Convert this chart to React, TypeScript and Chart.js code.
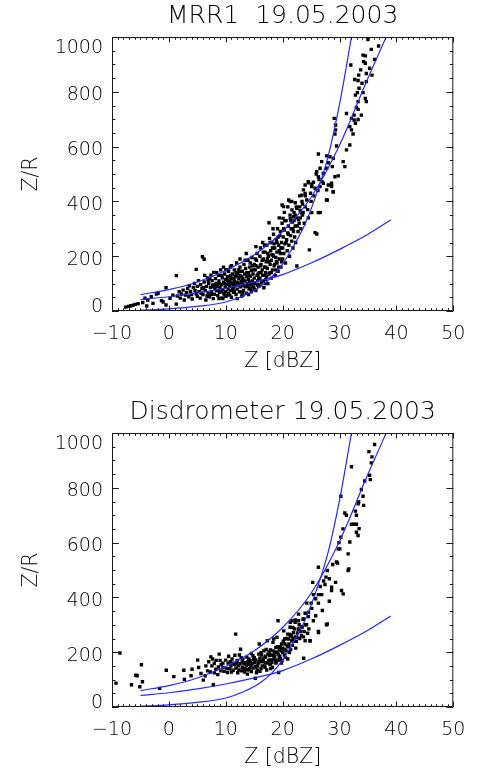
import React, { useEffect, useRef } from 'react';
import { Chart, registerables } from 'chart.js';

Chart.register(...registerables);

// ---------- axes ----------
const X_TICKS = [-10, 0, 10, 20, 30, 40, 50];
const Y_TICKS = [0, 200, 400, 600, 800, 1000];
const X_MINOR_STEP = 1;
const Y_MINOR_STEP = 50;

// ---------- fitted Z/R relations (same in both panels) ----------
const CURVE_A_Z = [-5, 0, 5, 10, 13, 16, 18, 20, 22, 24, 26, 28, 30, 32.1];
const CURVE_A_ZR = [3, 8, 17, 33, 55, 88, 122, 172, 240, 320, 430, 565, 755, 1000];
const CURVE_B_Z = [-5, 0, 5, 10, 15, 20, 25, 30, 35, 38.2];
const CURVE_B_ZR = [60, 78, 106, 148, 205, 290, 415, 605, 850, 1000];
const CURVE_C_Z = [-5, 0, 5, 10, 15, 20, 25, 30, 35, 39];
const CURVE_C_ZR = [42, 52, 66, 84, 106, 133, 175, 225, 280, 332];

// ---------- MRR1 scatter [Z dBZ, Z/R] ----------
const MRR_POINTS: [number, number][] = [
  [-7.6, 14], [-7.1, 17], [-6.7, 19], [-6.3, 21], [-5.9, 24], [-5.4, 27], [-4.6, 31], [-3.9, 18], [-3.7, 40], [-3.1, 52],
  [-2.8, 28], [-2.2, 62], [-1.9, 65], [-1.3, 38], [-1.0, 33], [-0.5, 22], [-0.5, 85], [0.2, 46], [0.7, 58], [-4.2, 47],
  [1.3, 25], [1.3, 129],
  [1.5, 55], [1.8, 70], [2.0, 47], [2.2, 62], [2.5, 76], [2.7, 40], [2.9, 58], [3.1, 67], [3.3, 82], [3.5, 52],
  [3.6, 92], [3.8, 71], [4.0, 60], [4.1, 44], [4.3, 86], [4.5, 101], [4.6, 75], [4.8, 152], [4.8, 63], [5.0, 90], [5.0, 54],
  [5.2, 111], [5.3, 70], [5.5, 47], [5.6, 96], [5.8, 81], [5.9, 198], [6.0, 60], [6.2, 189], [6.2, 106], [6.4, 75],
  [6.5, 40], [6.6, 90], [6.8, 121], [6.9, 65], [7.0, 100], [7.1, 52], [7.3, 86], [7.4, 131], [7.5, 70], [7.6, 111],
  [7.7, 95], [7.8, 45], [7.9, 141], [8.0, 61], [8.1, 80], [8.2, 118], [8.3, 101], [8.4, 75], [8.5, 90], [8.6, 56],
  [8.7, 130], [8.8, 110], [8.9, 68], [9.0, 85], [9.1, 150], [9.2, 96], [9.3, 48], [9.4, 121], [9.5, 78], [9.6, 105],
  [9.7, 62], [9.8, 135], [9.9, 88], [10.0, 115], [10.0, 70],
  [5.7, 65], [6.3, 130], [6.7, 55], [7.2, 118], [7.9, 88], [8.4, 140], [8.9, 100], [9.3, 70], [9.6, 160], [9.9, 55],
  [10.1, 55], [10.2, 98], [10.3, 125], [10.4, 80], [10.5, 145], [10.5, 65], [10.6, 108], [10.7, 90], [10.8, 160], [10.9, 75],
  [11.0, 118], [11.0, 50], [11.1, 100], [11.2, 135], [11.3, 85], [11.4, 68], [11.5, 150], [11.5, 110], [11.6, 92], [11.7, 125],
  [11.8, 60], [11.9, 175], [12.0, 105], [12.0, 80], [12.1, 140], [12.2, 95], [12.3, 118], [12.4, 70], [12.5, 160], [12.5, 130],
  [12.6, 88], [12.7, 108], [12.8, 55], [12.9, 145], [13.0, 120], [13.0, 98], [13.1, 75], [13.2, 170], [13.3, 135], [13.4, 110],
  [13.5, 88], [13.5, 155], [13.6, 65], [13.7, 125], [13.8, 100], [13.9, 185], [14.0, 140], [14.0, 115], [14.1, 80], [14.2, 160],
  [14.3, 128], [14.4, 95], [14.5, 148], [14.5, 70], [14.6, 195], [14.7, 110], [14.8, 135], [14.9, 88], [15.0, 170], [15.0, 120],
  [10.3, 112], [10.8, 130], [11.2, 78], [11.7, 102], [12.2, 150], [12.7, 125], [13.2, 92], [13.7, 140], [14.2, 105], [14.7, 165],
  [10.6, 95], [11.4, 120], [12.4, 100], [13.1, 112], [13.9, 130], [14.4, 82], [12.9, 68], [11.8, 140], [10.9, 105], [14.9, 150],
  [15.1, 100], [15.2, 150], [15.3, 75], [15.4, 185], [15.5, 130], [15.5, 210], [15.6, 110], [15.7, 160], [15.8, 90], [15.9, 140],
  [16.0, 200], [16.0, 120], [16.1, 230], [16.2, 170], [16.3, 105], [16.4, 150], [16.5, 250], [16.5, 130], [16.6, 190], [16.7, 85],
  [16.8, 160], [16.9, 215], [17.0, 140], [17.0, 115], [17.1, 180], [17.2, 240], [17.3, 155], [17.4, 100], [17.5, 200], [17.6, 322],
  [17.6, 135], [17.7, 265], [17.8, 170], [17.9, 220], [18.0, 120], [18.0, 185], [18.1, 250], [18.2, 150], [18.3, 205], [18.4, 280],
  [18.5, 165], [18.6, 230], [18.7, 130], [18.8, 195], [18.9, 260], [19.0, 175], [19.0, 215], [19.1, 300], [19.2, 145], [19.3, 240],
  [19.4, 190], [19.5, 275], [19.6, 210], [19.7, 160], [19.8, 250], [19.9, 320], [20.0, 230], [20.0, 190],
  [15.3, 165], [15.8, 120], [16.2, 140], [16.6, 110], [17.0, 160], [17.4, 210], [17.8, 140], [18.2, 230], [18.6, 170], [19.0, 250],
  [19.4, 220], [19.8, 180], [16.4, 185], [17.2, 125], [18.4, 200], [15.6, 95], [16.8, 240], [17.6, 180], [18.8, 150], [19.6, 290],
  [20.1, 270], [20.2, 210], [20.3, 295], [20.4, 245], [20.5, 175], [20.6, 330], [20.7, 260], [20.8, 220], [20.9, 285], [21.0, 310],
  [21.1, 240], [21.2, 200], [21.3, 350], [21.4, 275], [21.5, 300], [21.6, 255], [21.7, 325], [21.8, 230], [21.9, 290], [22.0, 360],
  [22.1, 270], [22.2, 310], [22.3, 250], [22.5, 164], [22.5, 340], [22.7, 290], [22.9, 320], [23.0, 380], [23.2, 300], [23.5, 350],
  [23.8, 320], [24.0, 380], [24.7, 223], [25.7, 286], [26.0, 281], [26.6, 359], [27.7, 405], [28.9, 435], [28.6, 466], [24.5, 340],
  [25.0, 400], [25.5, 420], [26.2, 440],
  [20.4, 330], [20.9, 380], [21.05, 405], [19.9, 387], [21.6, 400], [22.4, 380], [23.0, 420], [23.4, 400], [23.95, 460], [24.5, 472],
  [25.1, 454], [26.9, 472], [22.0, 330], [23.6, 360],
  [6.1, 85], [6.9, 110], [7.5, 60], [8.2, 95], [8.7, 75], [9.2, 130], [9.8, 100], [10.4, 150], [10.9, 120], [11.3, 95],
  [11.9, 130], [12.4, 145], [12.9, 110], [13.4, 185], [13.9, 90], [14.3, 175], [14.8, 100], [15.2, 190], [15.7, 135], [16.1, 165],
  [16.6, 215], [16.9, 130], [17.3, 190], [17.8, 250], [18.1, 205], [18.5, 245], [18.9, 180], [19.2, 270], [19.7, 230], [20.2, 300],
  [20.6, 250], [21.0, 280], [21.4, 330], [21.8, 300], [22.2, 350], [22.6, 310], [23.1, 340], [23.5, 390], [24.0, 420], [24.4, 370],
  [24.9, 430], [25.4, 470], [25.9, 500], [26.4, 480], [19.3, 160], [18.0, 140], [17.0, 100], [16.0, 95], [15.0, 80], [14.0, 60],
  [13.0, 58], [12.0, 45], [11.5, 72], [10.7, 58], [9.5, 45], [8.8, 45], [12.5, 190], [11.0, 165], [10.0, 150], [13.6, 210],
  [15.3, 235], [18.3, 300], [19.4, 340], [20.3, 360],
  [35.0, 991], [36.86, 967], [35.58, 955], [34.13, 934], [34.54, 931], [36.16, 918], [34.24, 910], [34.54, 904], [35.29, 886], [33.72, 880],
  [34.71, 867], [35.7, 861], [32.67, 845], [33.26, 841], [34.71, 837], [33.95, 831], [33.43, 813], [33.14, 797], [34.13, 797], [32.79, 788],
  [34.54, 776], [33.26, 764], [34.71, 764], [31.98, 898], [33.37, 861], [31.22, 721], [32.56, 715], [32.97, 743], [33.26, 736], [32.09, 703],
  [33.84, 715], [32.56, 697], [32.79, 685], [33.26, 699], [31.8, 673], [32.09, 661], [32.38, 646], [29.07, 703], [29.3, 679], [29.3, 661],
  [29.19, 646], [29.48, 602], [31.8, 606], [31.22, 588], [26.28, 573], [27.73, 566], [28.31, 563], [28.9, 557], [26.86, 545], [28.02, 541],
  [28.72, 527], [30.64, 545], [30.93, 527], [27.73, 521], [26.57, 521], [25.99, 508], [27.15, 502], [26.28, 490], [29.19, 490], [29.77, 493],
  [24.54, 468], [25.12, 463], [25.7, 448], [27.15, 466], [28.02, 460], [27.73, 442], [28.9, 435], [26.57, 454], [23.66, 442], [23.95, 429],
  [23.37, 423], [28.6, 454], [24.24, 405], [22.21, 395], [21.34, 399], [20.17, 381], [21.63, 369], [22.5, 375], [23.08, 366], [23.37, 356],
  [21.92, 344], [21.34, 338], [25.12, 359], [26.28, 359], [27.85, 405], [20.06, 338], [22.79, 334],
];

// ---------- Disdrometer scatter [Z dBZ, Z/R] ----------
const DISDRO_POINTS: [number, number][] = [
  [-8.6, 197], [-9.3, 87], [-6.57, 81], [-5.81, 116], [-5.58, 114], [-4.83, 154], [-5.12, 74], [-4.65, 92], [-1.63, 68], [-0.46, 134],
  [0.87, 111], [2.62, 134], [2.73, 101], [4.07, 138], [3.9, 114], [5.06, 171], [5.23, 144], [5.64, 122], [6.4, 114], [6.05, 98],
  [6.8, 132], [7.38, 183], [7.67, 175], [7.56, 150], [7.97, 159], [7.8, 81], [8.26, 138], [8.84, 193], [8.72, 146], [9.13, 132],
  [9.53, 144], [10.0, 171], [10.3, 126], [10.9, 150], [11.3, 134], [11.6, 189], [11.74, 266], [12.2, 150], [12.6, 211], [12.8, 132],
  [13.2, 159], [13.5, 138], [13.8, 120], [14.07, 175], [14.4, 150], [14.5, 129], [14.77, 187], [15.1, 162], [15.2, 105], [15.5, 138],
  [15.8, 193], [15.9, 230], [16.1, 168], [16.4, 150], [16.7, 205], [16.9, 181], [17.0, 162], [17.3, 242], [17.4, 193], [17.7, 171],
  [17.85, 208], [18.1, 162], [18.3, 236], [18.4, 187], [18.7, 171], [18.8, 217], [19.0, 254], [19.2, 193], [19.3, 126], [19.4, 211],
  [19.6, 175], [19.8, 230], [20.0, 199], [20.2, 278], [20.35, 248], [20.5, 181], [20.8, 223], [20.9, 266], [21.2, 199], [21.3, 291],
  [21.6, 242], [21.9, 272], [22.2, 309], [22.5, 254], [22.8, 284], [23.3, 260], [23.7, 178], [23.95, 242], [24.4, 269], [24.8, 242],
  [25.4, 315], [26.3, 272], [27.7, 300],
  [9.5, 160], [10.2, 140], [10.8, 165], [11.0, 128], [11.5, 155], [11.8, 142], [12.0, 170], [12.3, 135], [12.5, 158], [12.9, 145],
  [13.0, 175], [13.3, 128], [13.6, 150], [13.9, 165], [14.2, 140], [14.6, 158], [14.9, 172], [15.2, 148], [15.4, 125], [15.7, 160],
  [16.0, 178], [16.2, 140], [16.5, 165], [16.8, 150], [17.0, 185], [17.2, 135], [17.5, 170], [17.8, 155], [18.0, 190], [18.2, 145],
  [18.5, 175], [18.8, 160], [19.0, 200], [19.2, 170], [19.5, 185], [19.8, 160], [20.0, 215], [20.3, 190], [20.6, 205], [20.9, 175],
  [21.1, 230], [21.4, 210], [21.7, 225], [22.0, 240], [22.3, 215], [22.6, 270], [23.0, 250], [23.4, 290], [23.8, 275], [24.2, 300],
  [24.6, 285], [8.0, 125], [9.0, 170], [10.5, 185], [11.2, 160], [12.7, 180], [13.4, 162], [14.0, 155], [15.0, 180], [16.3, 190],
  [17.6, 200], [18.6, 200], [19.6, 220], [20.4, 230], [21.5, 260],
  [6.5, 150], [7.0, 165], [7.3, 128], [8.3, 170], [8.6, 118], [9.2, 155], [9.7, 130], [10.4, 160], [10.7, 140], [11.1, 175],
  [11.9, 158], [12.1, 125], [12.4, 190], [12.9, 165], [13.2, 140], [13.7, 182], [13.9, 135], [14.3, 168], [14.5, 195], [14.8, 142],
  [15.3, 172], [15.6, 150], [15.9, 165], [16.2, 198], [16.6, 175], [16.9, 145], [17.1, 210], [17.4, 160], [17.7, 188], [18.0, 172],
  [18.3, 205], [18.6, 185], [18.9, 165], [19.1, 220], [19.4, 180], [19.7, 205], [20.1, 240], [20.4, 210], [20.7, 250], [21.0, 220],
  [21.3, 265], [21.8, 250], [22.1, 285], [22.4, 240], [22.9, 300], [23.2, 275], [23.6, 320], [24.0, 300], [24.5, 330], [25.1, 360],
  [25.8, 395], [26.6, 440], [27.2, 460], [28.8, 520], [29.9, 600], [30.6, 650], [31.2, 700], [16.0, 130], [17.9, 140], [19.9, 170],
  [36.16, 958], [35.17, 932], [35.7, 913], [35.58, 891], [32.09, 877], [35.29, 846], [35.41, 830], [34.42, 825], [33.84, 794], [34.13, 769],
  [30.23, 769], [33.37, 748], [33.26, 742], [34.24, 736], [30.93, 708], [32.79, 715], [32.97, 700], [32.09, 667], [32.56, 667], [32.97, 667],
  [33.43, 651], [32.97, 638], [33.26, 626], [30.23, 620], [31.8, 602], [29.77, 577], [30.06, 577], [31.51, 559], [29.48, 529], [29.65, 525],
  [31.63, 504], [31.51, 498], [26.28, 510], [27.85, 498], [27.62, 474], [28.2, 468], [25.29, 455], [27.44, 447], [28.6, 437], [28.6, 425],
  [29.3, 455], [30.35, 425], [30.64, 413], [25.41, 410], [26.28, 410], [26.86, 410], [28.2, 386], [24.24, 379], [25.0, 379], [26.28, 379],
  [22.79, 339], [23.95, 342], [24.54, 346], [25.81, 333], [26.98, 352], [19.19, 315], [21.34, 309], [21.63, 315], [22.21, 318], [22.79, 315],
  [23.66, 321], [27.85, 303], [21.8, 290], [23.37, 293], [22.79, 284], [26.28, 276], [21.34, 260], [22.21, 256], [23.66, 256], [18.43, 248],
  [21.05, 248], [24.83, 242],
];

const FONT_FAMILY = '"DejaVu Sans", sans-serif';
const FONT_WEIGHT = 200;
const TEXT_COLOR = '#000';
const LINE_COLOR = 'rgb(40,40,255)';
const CANVAS_W = 477;
const CANVAS_H = 374;

const idlFrame = {
  id: 'idlFrame',
  afterDraw(chart: any) {
    const { ctx, chartArea, scales } = chart;
    const { left, right, top, bottom } = chartArea;
    const xs = scales.x;
    const ys = scales.y;
    ctx.save();
    ctx.strokeStyle = '#1a1a1a';
    ctx.lineWidth = 1;
    ctx.beginPath();
    ctx.rect(left + 0.5, top + 0.5, right - left - 1, bottom - top - 1);
    ctx.stroke();
    const xMajorLen = 0.02 * (bottom - top);
    const yMajorLen = 0.02 * (right - left);
    ctx.beginPath();
    const x0 = X_TICKS[0];
    const x1 = X_TICKS[X_TICKS.length - 1];
    const xMajorStep = X_TICKS[1] - X_TICKS[0];
    for (let i = 0; x0 + i * X_MINOR_STEP <= x1 + 1e-9; i++) {
      const v = x0 + i * X_MINOR_STEP;
      const q = (v - x0) / xMajorStep;
      const major = Math.abs(q - Math.round(q)) < 1e-6;
      const len = major ? xMajorLen : xMajorLen / 2;
      const px = Math.round(xs.getPixelForValue(v)) + 0.5;
      ctx.moveTo(px, bottom);
      ctx.lineTo(px, bottom - len);
      ctx.moveTo(px, top);
      ctx.lineTo(px, top + len);
    }
    const y0 = Y_TICKS[0];
    const y1 = Y_TICKS[Y_TICKS.length - 1];
    const yMajorStep = Y_TICKS[1] - Y_TICKS[0];
    for (let i = 0; y0 + i * Y_MINOR_STEP <= y1 + 1e-9; i++) {
      const v = y0 + i * Y_MINOR_STEP;
      const q = (v - y0) / yMajorStep;
      const major = Math.abs(q - Math.round(q)) < 1e-6;
      const len = major ? yMajorLen : yMajorLen / 2;
      const py = Math.round(ys.getPixelForValue(v)) + 0.5;
      ctx.moveTo(left, py);
      ctx.lineTo(left + len, py);
      ctx.moveTo(right, py);
      ctx.lineTo(right - len, py);
    }
    ctx.stroke();
    ctx.restore();
  },
};

function curve(zs: number[], vs: number[]) {
  return {
    type: 'line' as const,
    data: zs.map((z, i) => ({ x: z, y: vs[i] })),
    borderColor: LINE_COLOR,
    borderWidth: 1.2,
    pointRadius: 0,
    fill: false,
    cubicInterpolationMode: 'monotone' as const,
  };
}

function makeConfig(title: string, points: [number, number][]): any {
  const yFirst = Y_TICKS[0];
  const yLast = Y_TICKS[Y_TICKS.length - 1];
  return {
    type: 'scatter',
    data: {
      datasets: [
        curve(CURVE_A_Z, CURVE_A_ZR),
        curve(CURVE_B_Z, CURVE_B_ZR),
        curve(CURVE_C_Z, CURVE_C_ZR),
        {
          type: 'scatter',
          data: points.map(([z, v]) => ({ x: z, y: v })),
          pointStyle: 'rect',
          pointRadius: 2.4,
          backgroundColor: '#000',
          borderWidth: 0,
        },
      ],
    },
    options: {
      responsive: false,
      animation: false,
      events: [],
      layout: { padding: { left: 0, right: 21, top: 0, bottom: 0 } },
      plugins: {
        legend: { display: false },
        tooltip: { enabled: false },
        title: {
          display: true,
          fullSize: false,
          text: title,
          color: TEXT_COLOR,
          font: { family: FONT_FAMILY, size: 25, weight: FONT_WEIGHT, lineHeight: 1.2 },
          padding: { top: 1, bottom: 6 },
        },
      },
      scales: {
        x: {
          type: 'linear',
          min: X_TICKS[0],
          max: X_TICKS[X_TICKS.length - 1],
          afterBuildTicks: (s: any) => {
            s.ticks = X_TICKS.map((v) => ({ value: v }));
          },
          afterFit: (s: any) => {
            s.height = CANVAS_H - 311;
          },
          grid: { display: false, drawTicks: false, tickLength: 0 },
          border: { display: false },
          ticks: {
            autoSkip: false,
            maxRotation: 0,
            padding: 11.6,
            color: TEXT_COLOR,
            font: { family: FONT_FAMILY, size: 19, weight: FONT_WEIGHT, lineHeight: 1.2 },
            callback: (v: number) => (v < 0 ? '\u2212' + Math.abs(v) : String(v)),
          },
          title: {
            display: true,
            text: 'Z [dBZ]',
            color: TEXT_COLOR,
            font: { family: FONT_FAMILY, size: 20.5, weight: FONT_WEIGHT, lineHeight: 1.2 },
            padding: { top: 0, bottom: 0 },
          },
        },
        y: {
          type: 'linear',
          min: yFirst,
          max: yLast,
          afterBuildTicks: (s: any) => {
            s.ticks = Y_TICKS.map((v) => ({ value: v }));
          },
          afterFit: (s: any) => {
            s.width = 112;
          },
          grid: { display: false, drawTicks: false, tickLength: 0 },
          border: { display: false },
          ticks: {
            autoSkip: false,
            padding: 9,
            color: TEXT_COLOR,
            // IDL nudges the end labels inside the box; an empty companion line shifts each label
            callback: (v: number) => (v === yFirst ? [String(v), ''] : ['', String(v)]),
            font: (c: any) => {
              const v = c.tick ? c.tick.value : 0;
              const lh = v === yFirst ? '8px' : v === yLast ? '22px' : '7px';
              return { family: FONT_FAMILY, size: 19, weight: FONT_WEIGHT, lineHeight: lh };
            },
          },
          title: {
            display: true,
            text: 'Z/R',
            color: TEXT_COLOR,
            font: { family: FONT_FAMILY, size: 20.5, weight: FONT_WEIGHT, lineHeight: 1.2 },
            padding: { top: 19.7, bottom: 0 },
          },
        },
      },
    },
    plugins: [idlFrame],
  };
}

function Panel({ title, points, top }: { title: string; points: [number, number][]; top: number }) {
  const ref = useRef<HTMLCanvasElement | null>(null);
  useEffect(() => {
    if (!ref.current) return;
    const chart = new Chart(ref.current, makeConfig(title, points));
    return () => chart.destroy();
  }, [title, points]);
  return (
    <div style={{ position: 'absolute', left: 0, top, width: CANVAS_W, height: CANVAS_H }}>
      <canvas ref={ref} width={CANVAS_W} height={CANVAS_H} style={{ display: 'block' }} />
    </div>
  );
}

export default function App() {
  return (
    <div style={{ position: 'fixed', left: 0, top: 0, width: 477, height: 770, background: '#fff', overflow: 'hidden' }}>
      <Panel title={'MRR1  19.05.2003'} points={MRR_POINTS} top={0} />
      <Panel title={'Disdrometer 19.05.2003'} points={DISDRO_POINTS} top={396} />
    </div>
  );
}
